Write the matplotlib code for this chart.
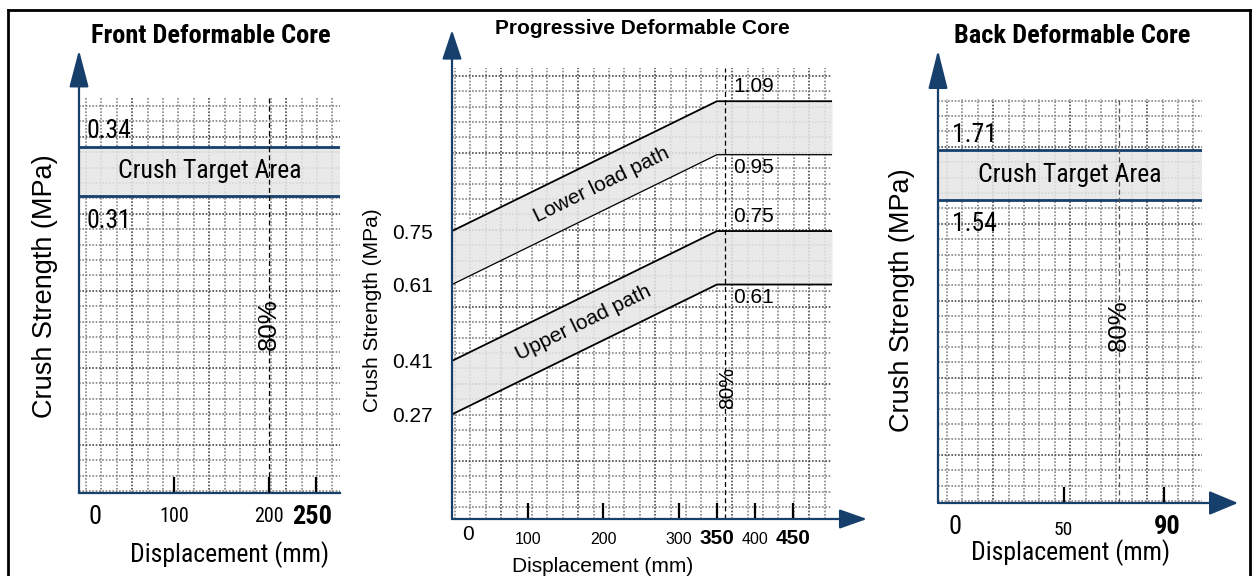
import numpy as np
import matplotlib
matplotlib.use('Agg')
import matplotlib.pyplot as plt
from matplotlib.lines import Line2D
from matplotlib import font_manager as fm

# ---- data ----
front_band = [0.31, 0.34]          # MPa
front_ticks = [100, 200, 250]      # mm
front_max = 250

prog_x = [0, 350]                  # mm, knee of the load paths
prog_max = 450
lower_top = [0.75, 1.09]
lower_bot = [0.61, 0.95]
upper_top = [0.41, 0.75]
upper_bot = [0.27, 0.61]
prog_ticks = [100, 200, 300, 350, 400, 450]
prog_yticks = [0.27, 0.41, 0.61, 0.75]

back_band = [1.54, 1.71]
back_ticks = [50, 90]
back_max = 90

W, H = 1256, 576
NAVY = '#173f6b'
ARIAL = ['Liberation Sans', 'DejaVu Sans']
PT = 72 / 100.0   # points per pixel at dpi 100

# condensed face for the side panels, if one is installed
_names = {f.name for f in fm.fontManager.ttflist}
NARROW, NSCALE = ARIAL, 0.84
for n in ['Liberation Sans Narrow', 'Arial Narrow', 'Roboto Condensed', 'Open Sans Condensed']:
    if n in _names:
        NARROW, NSCALE = [n, 'DejaVu Sans'], 1.0
        break


def nfs(size):
    return size * NSCALE


def frac(l, t, r, b):
    return [l / W, 1 - b / H, (r - l) / W, (b - t) / H]


def fig_text(x, y, s, **kw):
    fig.text(x / W, 1 - y / H, s, ha='center', va='center', **kw)


def paper_grid(ax, w_px, h_px, x0=5, y0=5, step=15.4):
    # decorative millimetre-paper grid, drawn in axes fraction
    xs = np.arange(x0, w_px, step)
    ys = np.arange(y0, h_px, step)
    for i, x in enumerate(xs):
        c = '#4a4a4a' if i % 5 == 3 else '#858585'
        ax.plot([x / w_px] * 2, [0, 1], transform=ax.transAxes, color=c,
                lw=1.2, ls=(0, (1, 1)), zorder=1)
    for i, y in enumerate(ys):
        c = '#4a4a4a' if i % 5 == 3 else '#858585'
        ax.plot([0, 1], [y / h_px] * 2, transform=ax.transAxes, color=c,
                lw=1.2, ls=(0, (1, 1)), zorder=1)


def arrow(ax, xy, head_len, head_w):
    ax.annotate('', xy=xy, xytext=(0, 0), xycoords='axes fraction',
                annotation_clip=False,
                arrowprops=dict(arrowstyle='-|>,head_length=%g,head_width=%g' % (head_len, head_w),
                                mutation_scale=1, lw=1.6, color=NAVY,
                                shrinkA=0, shrinkB=0))


def tick_label(ax, x, s, dx=0, dy=-24, **kw):
    ax.annotate(s, xy=(x, 0), xycoords=ax.get_xaxis_transform(),
                xytext=(dx * PT, dy * PT), textcoords='offset points',
                ha='center', va='center', annotation_clip=False, **kw)


def setup(ax):
    for s in ax.spines.values():
        s.set_visible(False)
    ax.set_yticks([])
    ax.tick_params(axis='x', direction='in', length=16 * PT, width=1.6,
                   color='k', labelbottom=False)


fig = plt.figure(figsize=(W / 100, H / 100), dpi=100)

# ---------------- Front ----------------
ax1 = fig.add_axes(frac(79, 97, 340, 493))
ax1.set_xlim(0, 275)
ax1.set_ylim(0.128, 0.3706)
setup(ax1)
paper_grid(ax1, 261, 396, x0=7, y0=2)
ax1.spines['bottom'].set_visible(True)
ax1.spines['bottom'].set_color(NAVY)
ax1.spines['bottom'].set_linewidth(1.6)
ax1.set_xticks(front_ticks)
ax1.axhspan(front_band[0], front_band[1], color='#e6e6e6', alpha=0.85, zorder=2, lw=0)
for v in front_band:
    ax1.axhline(v, color=NAVY, lw=2.0, zorder=3)
ax1.axvline(0.8 * front_max, color='k', lw=0.9, ls=(0, (4, 2.5)), zorder=3)
ax1.text(0.5, np.mean(front_band), 'Crush Target Area', transform=ax1.get_yaxis_transform(),
         ha='center', va='center', fontsize=nfs(18.5), family=NARROW, zorder=4)
ax1.annotate('%.2f' % front_band[1], xy=(0, front_band[1]), xytext=(8 * PT, 16 * PT),
             textcoords='offset points', ha='left', va='center', fontsize=nfs(18.5), family=NARROW)
ax1.annotate('%.2f' % front_band[0], xy=(0, front_band[0]), xytext=(8 * PT, -25 * PT),
             textcoords='offset points', ha='left', va='center', fontsize=nfs(18.5), family=NARROW)
ax1.annotate('80%', xy=(0.8 * front_max, 0.427), xycoords=ax1.get_xaxis_transform(),
             ha='center', va='center', rotation=90, fontsize=18.5, family=ARIAL)
arrow(ax1, (0, 443 / 396), 23, 6)
tick_label(ax1, 0, '0', dx=16, fontsize=nfs(19), family=NARROW)
for t in front_ticks:
    if t == front_max:
        tick_label(ax1, t, str(t), dx=-4, fontsize=nfs(19), family=NARROW, weight='bold')
    else:
        tick_label(ax1, t, str(t), fontsize=nfs(14.5), family=NARROW)

# ---------------- Progressive ----------------
ax2 = fig.add_axes(frac(452, 68, 832, 519))
ax2.set_xlim(0, 502)
ax2.set_ylim(-0.004, 1.177)
setup(ax2)
paper_grid(ax2, 380, 451, x0=3, y0=12)
ax2.set_xticks(prog_ticks)
ax2.set_yticks(prog_yticks, labels=['%.2f' % v for v in prog_yticks])
ax2.tick_params(axis='y', length=0, pad=19 * PT, labelsize=15)
for lab in ax2.get_yticklabels():
    lab.set_family(ARIAL)

xe = prog_x + [ax2.get_xlim()[1]]
paths = [(lower_top, lower_bot, 'Lower load path', 198),
         (upper_top, upper_bot, 'Upper load path', 174)]
for top, bot, name, xm in paths:
    yt = top + [top[-1]]
    yb = bot + [bot[-1]]
    ax2.fill_between(xe, yb, yt, color='#e6e6e6', alpha=0.85, zorder=2, lw=0)
    ax2.plot(xe, yt, color='k', lw=1.3, zorder=3)
    ax2.plot(xe, yb, color='k', lw=0.9 if top is lower_top else 1.3, zorder=3)
    ym = np.interp(xm, prog_x, [(a + b) / 2 for a, b in zip(top, bot)])
    p0 = ax2.transData.transform((prog_x[0], top[0]))
    p1 = ax2.transData.transform((prog_x[1], top[1]))
    ang = np.degrees(np.arctan2(p1[1] - p0[1], p1[0] - p0[0]))
    ax2.text(xm, ym, name, rotation=ang, rotation_mode='anchor', ha='center', va='center',
             fontsize=15, family=ARIAL, zorder=4)
    ax2.annotate('%.2f' % top[-1], xy=(0.8 * prog_max, top[-1]), xytext=(9 * PT, 15 * PT),
                 textcoords='offset points', ha='left', va='center', fontsize=15, family=ARIAL)
    ax2.annotate('%.2f' % bot[-1], xy=(0.8 * prog_max, bot[-1]), xytext=(9 * PT, -13 * PT),
                 textcoords='offset points', ha='left', va='center', fontsize=15, family=ARIAL)

ax2.axvline(0.8 * prog_max, color='k', lw=0.9, ls=(0, (4, 2.5)), zorder=3)
ax2.annotate('80%', xy=(0.8 * prog_max, 0.29), xycoords=ax2.get_xaxis_transform(),
             xytext=(3 * PT, 0), textcoords='offset points',
             ha='center', va='center', rotation=90, fontsize=15, family=ARIAL)
arrow(ax2, (0, 489 / 451), 18, 6)
arrow(ax2, (415 / 380, 0), 17, 6)
tick_label(ax2, 0, '0', dx=16, dy=-16, fontsize=15, family=ARIAL)
for t in prog_ticks:
    if t in (prog_x[1], prog_max):
        tick_label(ax2, t, str(t), dy=-19, fontsize=15, family=ARIAL, weight='bold')
    else:
        tick_label(ax2, t, str(t), dy=-20, fontsize=11.5, family=ARIAL)

# ---------------- Back ----------------
ax3 = fig.add_axes(frac(938, 99, 1202, 503))
ax3.set_xlim(0, 105)
ax3.set_ylim(0.509, 1.883)
setup(ax3)
paper_grid(ax3, 264, 404, x0=9, y0=2)
ax3.set_xticks(back_ticks)
ax3.axhspan(back_band[0], back_band[1], color='#e6e6e6', alpha=0.85, zorder=2, lw=0)
for v in back_band:
    ax3.axhline(v, color=NAVY, lw=2.0, zorder=3)
ax3.axvline(0.8 * back_max, color='#555555', lw=0.9, ls=(0, (4, 2.5)), zorder=3)
ax3.text(0.5, np.mean(back_band), 'Crush Target Area', transform=ax3.get_yaxis_transform(),
         ha='center', va='center', fontsize=nfs(18.5), family=NARROW, zorder=4)
ax3.annotate('%.2f' % back_band[1], xy=(0, back_band[1]), xytext=(14 * PT, 15 * PT),
             textcoords='offset points', ha='left', va='center', fontsize=nfs(18.5), family=NARROW)
ax3.annotate('%.2f' % back_band[0], xy=(0, back_band[0]), xytext=(14 * PT, -24 * PT),
             textcoords='offset points', ha='left', va='center', fontsize=nfs(18.5), family=NARROW)
ax3.annotate('80%', xy=(0.8 * back_max, 0.44), xycoords=ax3.get_xaxis_transform(),
             ha='center', va='center', rotation=90, fontsize=18.5, family=ARIAL)
arrow(ax3, (0, 453 / 404), 24, 6)
arrow(ax3, (300 / 264, 0), 18, 7.5)
tick_label(ax3, 0, '0', dx=17, fontsize=nfs(19), family=NARROW)
for t in back_ticks:
    if t == back_max:
        tick_label(ax3, t, str(t), dx=3, fontsize=nfs(19), family=NARROW, weight='bold')
    else:
        tick_label(ax3, t, str(t), dy=-27, fontsize=nfs(14), family=NARROW)

# ---------------- titles and axis labels ----------------
fig_text(211, 36, 'Front Deformable Core', fontsize=nfs(19), family=NARROW, weight='bold')
fig_text(642, 29, 'Progressive Deformable Core', fontsize=15, family=ARIAL, weight='bold')
fig_text(1072, 36, 'Back Deformable Core', fontsize=nfs(19), family=NARROW, weight='bold')

fig_text(45, 286, 'Crush Strength (MPa)', rotation=90, fontsize=19.5, family=ARIAL)
fig_text(372, 310, 'Crush Strength (MPa)', rotation=90, fontsize=15, family=ARIAL)
fig_text(902, 300, 'Crush Strength (MPa)', rotation=90, fontsize=19.5, family=ARIAL)

fig_text(230, 555, 'Displacement (mm)', fontsize=nfs(18.5), family=NARROW)
fig_text(603, 566, 'Displacement (mm)', fontsize=15, family=ARIAL)
fig_text(1071, 553, 'Displacement (mm)', fontsize=nfs(18.5), family=NARROW)

# outer frame
for xs, ys in [((8, 1250), (10, 10)), ((8, 8), (10, 580)), ((1250, 1250), (10, 580))]:
    fig.add_artist(Line2D([x / W for x in xs], [1 - y / H for y in ys], color='k', lw=2.0))

fig.savefig('out.png', dpi=100)
